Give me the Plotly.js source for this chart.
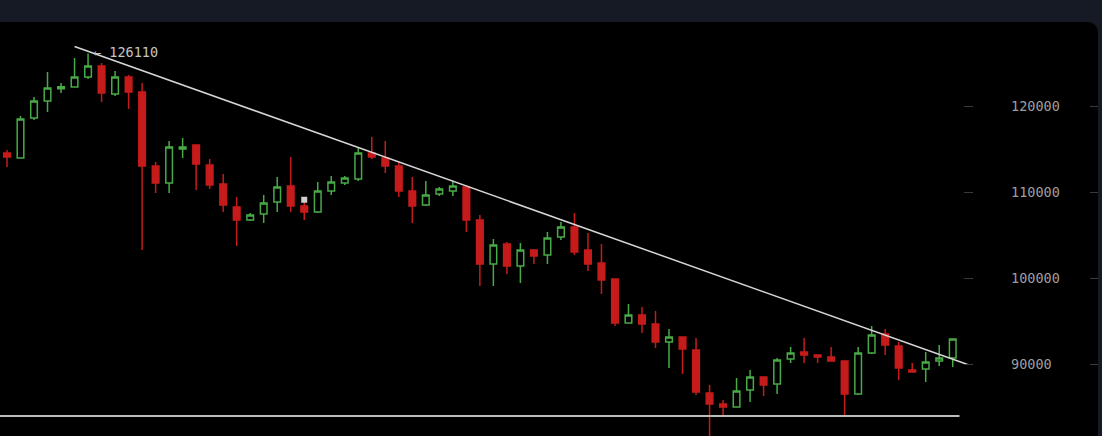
<!DOCTYPE html>
<html>
<head>
<meta charset="utf-8">
<script src="https://cdn.plot.ly/plotly-3.0.1.min.js"></script>
<style>
  html, body { margin:0; padding:0; background:#161a25; width:1102px; height:436px; overflow:hidden; }
  #panel { position:absolute; left:0; top:22px; width:1098px; height:414px; background:#000;
           border-top-right-radius:10px; overflow:hidden; }
  #chart { width:1098px; height:414px; }
</style>
</head>
<body>
<div id="panel"><div id="chart"></div></div>
<script>
// ---- data ----
const idx = Array.from({length: 71}, (_, i) => i);
const openV = [
  114540,113960,118610,120580,122010,122210,123370,124650,121390,123370,
  121630,113030,111060,115010,115470,113150,110940,108270,106760,107460,
  108850,110710,108390,107690,110130,111060,111520,114540,113960,113030,
  110130,108500,109780,110130,110590,106760,101650,103970,101420,103280,
  102700,104790,105950,103280,101770,99910,94800,95730,94680,92590,
  93170,91660,86670,85390,85040,87020,88530,87710,90620,91430,
  91080,90850,90380,86550,91310,93520,92130,89340,89460,90380,
  90730];
const highV = [
  114890,118840,121050,123950,122670,125580,126110,124990,124070,123600,
  122670,113500,115940,116280,115500,113850,112100,109430,107570,109660,
  111750,114080,109080,111170,111870,111870,115240,116400,115940,113500,
  111750,111290,110590,111290,110710,107340,104550,104210,104090,103390,
  105370,106530,107570,105250,103970,99910,97000,96660,96190,94100,
  93170,93060,87600,85860,88410,89340,88530,90730,92010,93060,
  91080,92010,90380,92010,94450,94100,92590,90150,91430,92240,
  92940];
const lowV = [
  112920,113900,118370,119300,121510,122210,123140,120470,121160,119650,
  103280,109900,109900,113960,110240,110360,107690,103740,106640,106410,
  107690,107690,106760,107570,109660,110830,111290,113850,112220,109430,
  106410,108390,109550,109550,105370,99100,99100,100490,99440,101650,
  101650,104440,102700,100840,98170,94450,94800,93640,91890,89570,
  88870,86440,80600,83880,85040,85620,86320,86550,90150,90150,
  90150,90380,83880,86440,91200,91080,88180,89110,87950,89800,
  89690];
const closeV = [
  114080,118490,120580,122090,122240,123370,124650,121510,123370,121630,
  113030,111060,115240,115240,113260,110830,108500,106760,107340,108730,
  110590,108390,107690,110130,111170,111640,114540,114080,113030,110130,
  108390,109660,110360,110710,106760,101650,103860,101420,103280,102580,
  104670,105950,103040,101650,99790,94800,95730,94680,92590,93170,
  91780,86780,85390,85040,86900,88530,87600,90500,91310,91080,
  90850,90380,86550,91310,93400,92240,89570,89110,90270,90730,
  92940];

// trend line and support line
const trendX = [5, 71.1];
const trendY = [126910, 89980];
const supportX = [-0.6, 70.5];
const supportY = [84000, 84000];

// small alert marker
const alertX = [22];
const alertY = [109100];

// axis ticks / annotation
const yTicks = [90000, 100000, 110000, 120000];
const peakLabel = "← 126110";
const peakX = 6;
const peakY = 126110;

const mono = "DejaVu Sans Mono, Liberation Mono, monospace";

const traces = [
  {
    type: 'candlestick',
    x: idx, open: openV, high: highV, low: lowV, close: closeV,
    increasing: { line: { color: '#48ab48', width: 1.5 }, fillcolor: '#000000' },
    decreasing: { line: { color: '#c61b1b', width: 1.5 }, fillcolor: '#c61b1b' },
    whiskerwidth: 0,
    hoverinfo: 'skip',
    showlegend: false
  },
  {
    type: 'scatter', mode: 'lines', x: trendX, y: trendY,
    line: { color: '#d6d6d6', width: 1.5 }, hoverinfo: 'skip', showlegend: false
  },
  {
    type: 'scatter', mode: 'lines', x: supportX, y: supportY,
    line: { color: '#bdbdbd', width: 2 }, hoverinfo: 'skip', showlegend: false
  },
  {
    type: 'scatter', mode: 'markers', x: alertX, y: alertY,
    marker: { symbol: 'square', size: 6, color: '#cfcfcf' }, hoverinfo: 'skip', showlegend: false
  },
  {
    type: 'scatter', mode: 'markers', x: [null], y: [null], yaxis: 'y2',
    hoverinfo: 'skip', showlegend: false
  }
];

const yRange = [81672, 129756];

const layout = {
  width: 1098, height: 414,
  margin: { l: 0, r: 0, t: 0, b: 0, pad: 0 },
  paper_bgcolor: 'rgba(0,0,0,0)',
  plot_bgcolor: 'rgba(0,0,0,0)',
  showlegend: false,
  hovermode: false,
  boxgap: 0.3,
  xaxis: {
    domain: [0, 973 / 1098],
    range: [-0.518, 71.5],
    visible: false,
    rangeslider: { visible: false },
    fixedrange: true
  },
  yaxis: {
    range: yRange,
    side: 'right',
    anchor: 'x',
    tickvals: yTicks,
    tickformat: 'd',
    ticks: 'inside',
    ticklen: 9,
    tickwidth: 1,
    tickcolor: '#3a3a3a',
    ticklabelstandoff: 37,
    tickfont: { family: mono, size: 13.5, color: '#9e9e9e' },
    showgrid: false, zeroline: false, showline: false,
    fixedrange: true
  },
  yaxis2: {
    range: yRange,
    overlaying: 'y',
    anchor: 'free',
    position: 1,
    side: 'right',
    tickvals: yTicks,
    ticks: 'inside',
    ticklen: 8,
    tickwidth: 1,
    tickcolor: '#3a3a3a',
    showticklabels: false,
    showgrid: false, zeroline: false, showline: false,
    fixedrange: true
  },
  annotations: [{
    x: peakX, y: peakY, xref: 'x', yref: 'y',
    text: peakLabel, showarrow: false,
    xanchor: 'left', yanchor: 'middle', xshift: 3, yshift: 1,
    font: { family: mono, size: 13.5, color: '#c4c4c4' }
  }]
};

Plotly.newPlot('chart', traces, layout, { displayModeBar: false, staticPlot: true });
</script>
</body>
</html>
